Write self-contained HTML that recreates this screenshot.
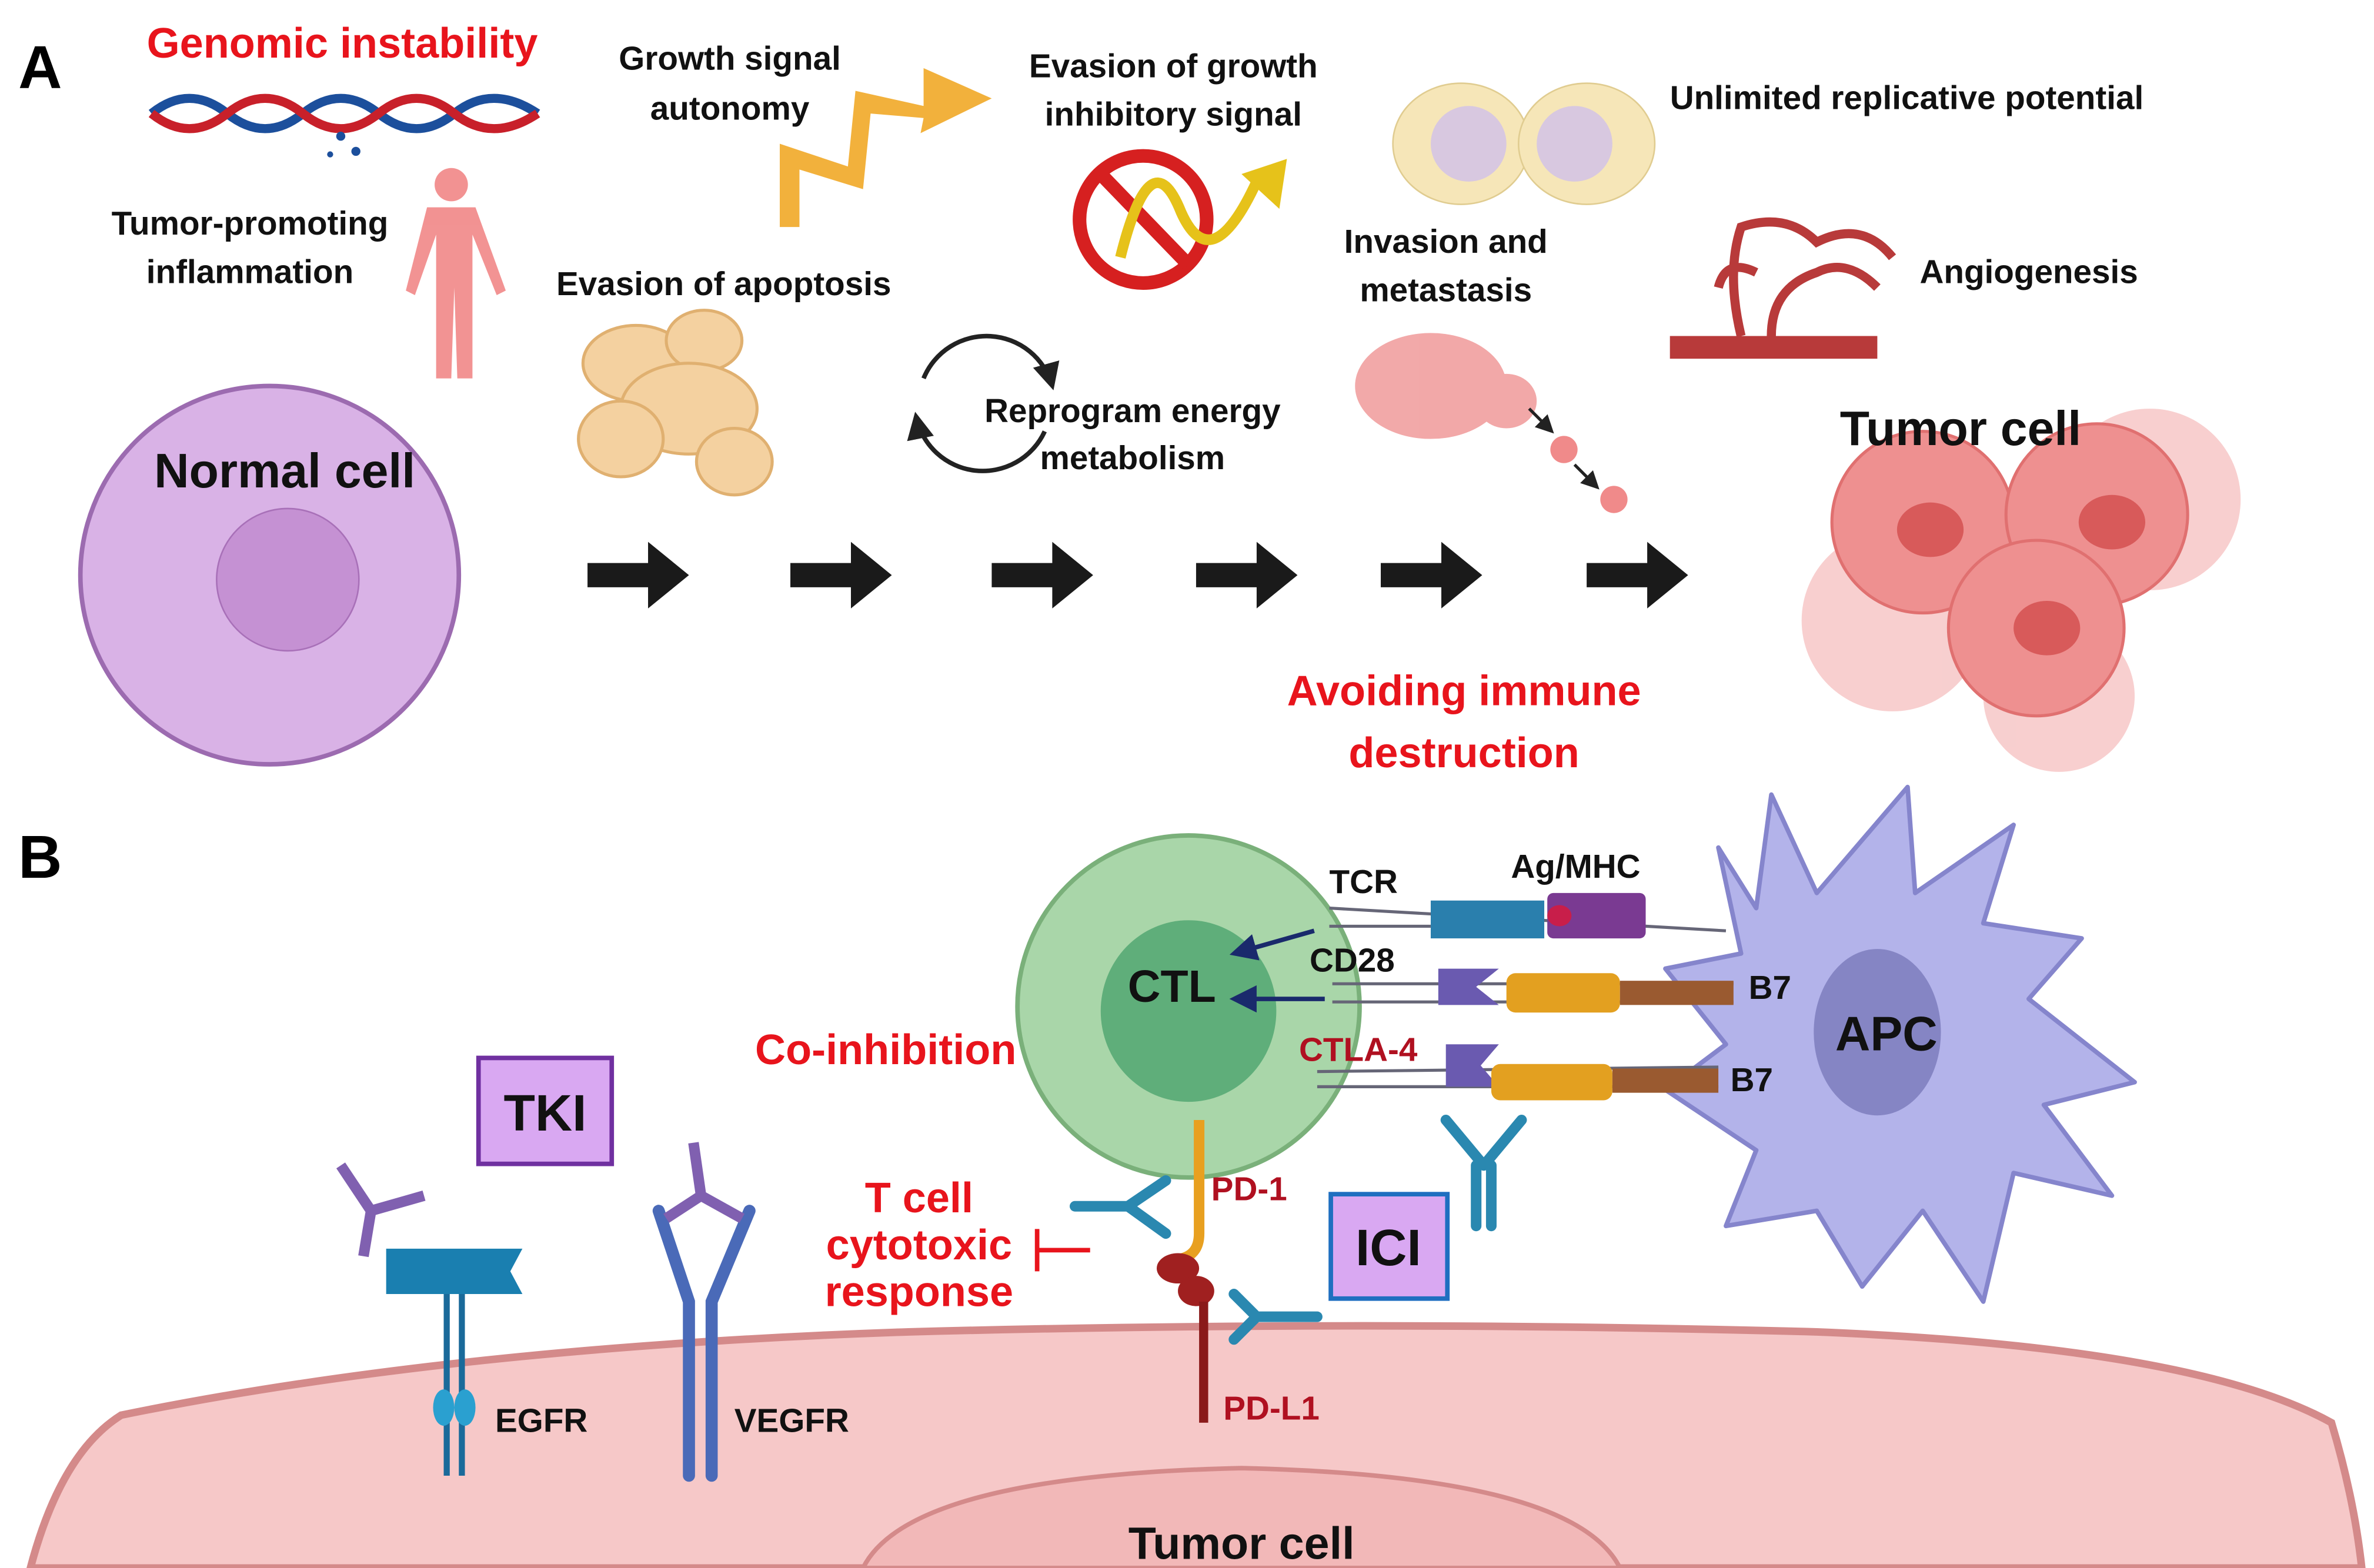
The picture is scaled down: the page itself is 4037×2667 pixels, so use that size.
<!DOCTYPE html>
<html><head><meta charset="utf-8"><style>
html,body{margin:0;padding:0;background:#fff}
svg{display:block}
text{font-family:"Liberation Sans",sans-serif;font-weight:bold}
</style></head><body>
<svg width="4037" height="2667" viewBox="0 0 1568 1036" xmlns="http://www.w3.org/2000/svg">
<defs>
<marker id="ah" markerWidth="6" markerHeight="6" refX="5" refY="3" orient="auto"><path d="M0,0L6,3L0,6z" fill="#1a2a6c"/></marker>
<marker id="ak" markerWidth="6" markerHeight="6" refX="5" refY="3" orient="auto"><path d="M0,0L6,3L0,6z" fill="#222"/></marker>
</defs>
<rect width="1568" height="1036" fill="#fff"/>
<!-- Panel A -->
<text x="12" y="58" font-size="40">A</text>
<text x="226" y="38" font-size="28" fill="#e8141c" text-anchor="middle">Genomic instability</text>
<path d="M100,75 Q125,55 150,75 T200,75 T250,75 T300,75 T355,75" stroke="#1c4f9c" stroke-width="6" fill="none"/>
<path d="M100,75 Q125,95 150,75 T200,75 T250,75 T300,75 T355,75" stroke="#c8202a" stroke-width="6" fill="none"/>
<g fill="#1c4f9c"><circle cx="225" cy="90" r="3"/><circle cx="235" cy="100" r="3"/><circle cx="218" cy="102" r="2"/></g>
<g font-size="22" text-anchor="middle" fill="#111">
<text x="165" y="155">Tumor-promoting</text><text x="165" y="187">inflammation</text>
<text x="482" y="46">Growth signal</text><text x="482" y="79">autonomy</text>
<text x="775" y="51">Evasion of growth</text><text x="775" y="83">inhibitory signal</text>
<text x="955" y="167">Invasion and</text><text x="955" y="199">metastasis</text>
<text x="478" y="195">Evasion of apoptosis</text>
<text x="748" y="279">Reprogram energy</text><text x="748" y="310">metabolism</text>
</g>
<text x="1103" y="72" font-size="22" fill="#111">Unlimited replicative potential</text>
<text x="1268" y="187" font-size="22" fill="#111">Angiogenesis</text>
<!-- human -->
<g fill="#f08080" opacity="0.85"><circle cx="298" cy="122" r="11"/><path d="M282,137 h32 l20,55 -6,3 -16,-40 v95 h-10 l-2,-60 -2,60 h-10 v-95 l-14,40 -6,-3z"/></g>
<!-- zigzag arrow -->
<path d="M515,150 L515,95 L560,110 L565,60 L610,70 L610,45 L655,65 L608,88 L610,78 L575,75 L570,125 L528,112 L528,150z" fill="#f2b13c"/>
<!-- no sign -->
<circle cx="755" cy="145" r="42" fill="none" stroke="#d62020" stroke-width="9"/>
<line x1="727" y1="115" x2="785" y2="175" stroke="#d62020" stroke-width="9"/>
<path d="M740,170 Q760,90 780,140 Q800,185 830,120" stroke="#e6c21a" stroke-width="7" fill="none"/>
<path d="M820,115 L850,105 L845,138z" fill="#e6c21a"/>
<!-- dividing cell -->
<ellipse cx="965" cy="95" rx="45" ry="40" fill="#f6e6b8" stroke="#e0cc90"/>
<ellipse cx="1048" cy="95" rx="45" ry="40" fill="#f6e6b8" stroke="#e0cc90"/>
<circle cx="970" cy="95" r="25" fill="#d8c8e0"/><circle cx="1040" cy="95" r="25" fill="#d8c8e0"/>
<!-- vessel -->
<rect x="1103" y="222" width="137" height="15" fill="#b83a3a"/>
<path d="M1150,222 Q1140,180 1150,150 Q1180,140 1200,160 Q1230,145 1250,170 M1170,222 Q1170,190 1200,180 Q1220,170 1240,190 M1160,180 Q1140,170 1135,190" stroke="#b83a3a" stroke-width="6" fill="none"/>
<!-- apoptosis blobs -->
<g fill="#f4d1a0" stroke="#e0b070" stroke-width="2">
<ellipse cx="420" cy="240" rx="35" ry="25"/><ellipse cx="465" cy="225" rx="25" ry="20"/><ellipse cx="455" cy="270" rx="45" ry="30"/><ellipse cx="410" cy="290" rx="28" ry="25"/><ellipse cx="485" cy="305" rx="25" ry="22"/>
</g>
<!-- circular arrows -->
<path d="M610,250 A45,45 0 0 1 695,255" stroke="#222" stroke-width="3" fill="none" marker-end="url(#ak)"/>
<path d="M690,285 A45,45 0 0 1 605,275" stroke="#222" stroke-width="3" fill="none" marker-end="url(#ak)"/>
<!-- metastasis -->
<g fill="#f09a9a" opacity="0.85"><ellipse cx="945" cy="255" rx="50" ry="35"/><ellipse cx="995" cy="265" rx="20" ry="18"/></g>
<circle cx="1033" cy="297" r="9" fill="#f08a8a"/><circle cx="1066" cy="330" r="9" fill="#f08a8a"/>
<line x1="1010" y1="270" x2="1025" y2="285" stroke="#222" stroke-width="2" marker-end="url(#ak)"/>
<line x1="1040" y1="307" x2="1055" y2="322" stroke="#222" stroke-width="2" marker-end="url(#ak)"/>
<!-- normal cell -->
<ellipse cx="178" cy="380" rx="125" ry="125" fill="#d9b2e6" stroke="#9c6bb0" stroke-width="3"/>
<circle cx="190" cy="383" r="47" fill="#c591d3" stroke="#a870b8"/>
<text x="188" y="322" font-size="32" text-anchor="middle" fill="#111">Normal cell</text>
<!-- arrows -->
<g fill="#1a1a1a">
<path d="M388,372h40v-14l27,22-27,22v-14h-40z"/>
<path d="M522,372h40v-14l27,22-27,22v-14h-40z"/>
<path d="M655,372h40v-14l27,22-27,22v-14h-40z"/>
<path d="M790,372h40v-14l27,22-27,22v-14h-40z"/>
<path d="M912,372h40v-14l27,22-27,22v-14h-40z"/>
<path d="M1048,372h40v-14l27,22-27,22v-14h-40z"/>
</g>
<!-- tumor cells -->
<g fill="#f2a8a8" opacity="0.55"><circle cx="1250" cy="410" r="60"/><circle cx="1420" cy="330" r="60"/><circle cx="1360" cy="460" r="50"/></g>
<g fill="#ee9090" stroke="#e07070" stroke-width="2">
<circle cx="1270" cy="345" r="60"/><circle cx="1385" cy="340" r="60"/><circle cx="1345" cy="415" r="58"/>
</g>
<g fill="#d85a5a"><ellipse cx="1275" cy="350" rx="22" ry="18"/><ellipse cx="1395" cy="345" rx="22" ry="18"/><ellipse cx="1352" cy="415" rx="22" ry="18"/></g>
<text x="1295" y="294" font-size="32" text-anchor="middle" fill="#111">Tumor cell</text>
<text x="967" y="466" font-size="28" text-anchor="middle" fill="#e8141c">Avoiding immune</text>
<text x="967" y="507" font-size="28" text-anchor="middle" fill="#e8141c">destruction</text>
<!-- Panel B -->
<text x="12" y="580" font-size="40">B</text>
<path d="M20,1036 Q40,960 80,935 Q300,890 600,880 Q900,872 1200,880 Q1450,890 1540,940 Q1555,990 1560,1036z" fill="#f6c8c8" stroke="#d48a8a" stroke-width="5"/>
<path d="M570,1036 Q600,975 820,970 Q1040,975 1070,1036z" fill="#f2b8b8" stroke="#d48a8a" stroke-width="3"/>
<text x="820" y="1030" font-size="30" text-anchor="middle" fill="#111">Tumor cell</text>
<!-- APC -->
<path d="M1135,560 L1160,600 L1170,525 L1200,590 L1260,520 L1265,590 L1330,545 L1310,610 L1375,620 L1340,660 L1410,715 L1350,730 L1395,790 L1330,775 L1310,860 L1270,800 L1230,850 L1200,800 L1140,810 L1160,760 L1100,720 L1140,690 L1100,640 L1150,630z" fill="#b3b3ea" stroke="#8585cc" stroke-width="3" stroke-linejoin="round"/>
<ellipse cx="1240" cy="682" rx="42" ry="55" fill="#8585c4"/>
<text x="1246" y="694" font-size="32" text-anchor="middle" fill="#111">APC</text>
<!-- CTL -->
<circle cx="785" cy="665" r="113" fill="#a9d6a9" stroke="#7ab07a" stroke-width="3"/>
<ellipse cx="785" cy="668" rx="58" ry="60" fill="#5fae7a"/>
<text x="774" y="662" font-size="30" text-anchor="middle" fill="#111">CTL</text>
<!-- receptors -->
<g stroke="#667" stroke-width="2">
<line x1="878" y1="600" x2="1140" y2="615"/><line x1="878" y1="612" x2="945" y2="612"/>
<line x1="880" y1="650" x2="1145" y2="650"/><line x1="880" y1="662" x2="1145" y2="662"/>
<line x1="870" y1="708" x2="1135" y2="705"/><line x1="870" y1="718" x2="1135" y2="718"/>
</g>
<rect x="945" y="595" width="75" height="25" fill="#2a7fad"/>
<rect x="1022" y="590" width="65" height="30" fill="#7a3a92" rx="4"/>
<ellipse cx="1030" cy="605" rx="8" ry="7" fill="#c81e4a"/>
<path d="M950,640 h40 l-15,12 15,12 h-40z" fill="#6a5ab0"/>
<rect x="995" y="643" width="75" height="26" fill="#e3a020" rx="6"/>
<rect x="1070" y="648" width="75" height="16" fill="#9a5a30"/>
<path d="M955,690 h35 l-12,14 12,14 h-35z" fill="#6a5ab0"/>
<rect x="985" y="703" width="80" height="24" fill="#e3a020" rx="6"/>
<rect x="1065" y="706" width="70" height="16" fill="#9a5a30"/>
<line x1="868" y1="615" x2="815" y2="630" stroke="#1a2a6c" stroke-width="3" marker-end="url(#ah)"/>
<line x1="875" y1="660" x2="815" y2="660" stroke="#1a2a6c" stroke-width="3" marker-end="url(#ah)"/>
<g font-size="22" fill="#111"><text x="878" y="590">TCR</text><text x="998" y="580">Ag/MHC</text><text x="865" y="642">CD28</text><text x="1155" y="660">B7</text><text x="1143" y="721">B7</text></g>
<text x="858" y="701" font-size="22" fill="#b01020">CTLA-4</text>
<!-- antibodies -->
<g stroke="#2a88b0" stroke-width="7" fill="none" stroke-linecap="round">
<path d="M985,810 V770 M975,810 V770 M980,770 L955,740 M980,770 L1005,740"/>
<path d="M710,797 H745 M745,797 L770,780 M745,797 L770,815"/>
<path d="M830,870 H870 M830,870 L815,855 M830,870 L815,885"/>
</g>
<path d="M792,740 V815 Q792,830 778,832" stroke="#e8a020" stroke-width="7" fill="none"/>
<ellipse cx="778" cy="838" rx="14" ry="10" fill="#a02020"/><ellipse cx="790" cy="853" rx="12" ry="10" fill="#a02020"/>
<line x1="795" y1="860" x2="795" y2="940" stroke="#8a1a1a" stroke-width="6"/>
<text x="800" y="793" font-size="22" fill="#b01020">PD-1</text>
<text x="808" y="938" font-size="22" fill="#b01020">PD-L1</text>
<text x="585" y="703" font-size="28" text-anchor="middle" fill="#e8141c">Co-inhibition</text>
<g font-size="28" text-anchor="middle" fill="#e8141c"><text x="607" y="801">T cell</text><text x="607" y="832">cytotoxic</text><text x="607" y="863">response</text></g>
<line x1="685" y1="826" x2="720" y2="826" stroke="#e8141c" stroke-width="3"/><line x1="685" y1="812" x2="685" y2="840" stroke="#e8141c" stroke-width="3"/>
<rect x="316" y="699" width="88" height="70" fill="#d9a8f2" stroke="#7030a0" stroke-width="3"/>
<text x="360" y="747" font-size="34" text-anchor="middle" fill="#111">TKI</text>
<rect x="879" y="789" width="77" height="69" fill="#d9a8f2" stroke="#1f6fc0" stroke-width="3"/>
<text x="917" y="836" font-size="34" text-anchor="middle" fill="#111">ICI</text>
<!-- EGFR -->
<path d="M255,825 h45 v30 h-45z M300,825 h45 l-8,15 8,15 h-45z" fill="#1a7fb0"/>
<g stroke="#1a6a9a" stroke-width="4"><line x1="295" y1="855" x2="295" y2="975"/><line x1="305" y1="855" x2="305" y2="975"/></g>
<ellipse cx="293" cy="930" rx="7" ry="12" fill="#2aa0d0"/><ellipse cx="307" cy="930" rx="7" ry="12" fill="#2aa0d0"/>
<g stroke="#8060b0" stroke-width="7"><path d="M245,800 L225,770 M245,800 L280,790 M245,800 L240,830"/></g>
<text x="327" y="946" font-size="22" fill="#111">EGFR</text>
<!-- VEGFR -->
<g stroke="#4a6ab8" stroke-width="8" stroke-linecap="round" fill="none">
<path d="M435,800 L455,860 V975"/><path d="M495,800 L470,860 V975"/>
</g>
<g stroke="#8060b0" stroke-width="7"><path d="M463,790 L458,755 M463,790 L440,805 M463,790 L490,805"/></g>
<text x="485" y="946" font-size="22" fill="#111">VEGFR</text>
</svg>
</body></html>
